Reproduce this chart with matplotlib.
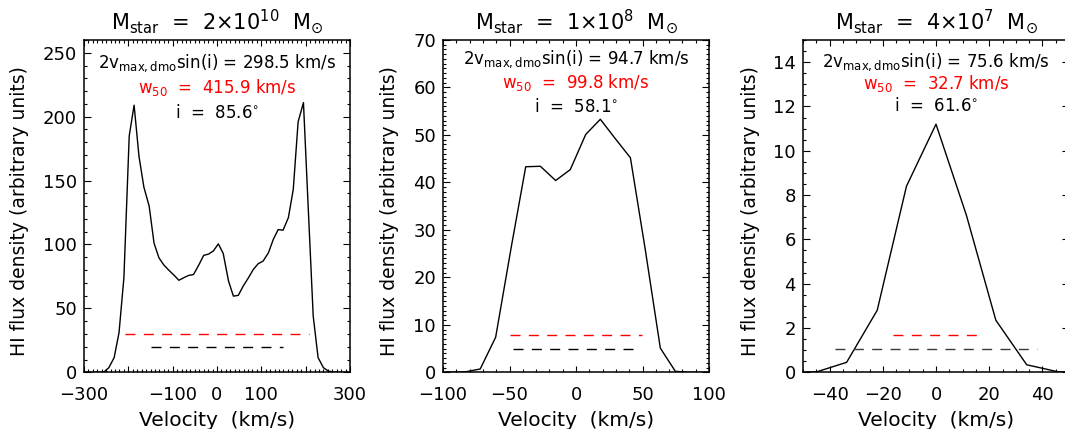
import matplotlib
matplotlib.use('Agg')
import matplotlib.pyplot as plt
from matplotlib.ticker import MultipleLocator

plt.rcParams['font.family'] = ['DejaVu Sans']
plt.rcParams['mathtext.fontset'] = 'dejavusans'
plt.rcParams['lines.scale_dashes'] = False
plt.rcParams['axes.unicode_minus'] = True

# ---------------- data ----------------
vel1 = [-300, -270, -255, -244, -232, -221, -210, -198, -187, -176, -165, -153,
        -142, -131, -120, -109, -97, -86, -75, -64, -53, -41, -30, -19, -8, 3,
        14, 26, 37, 48, 59, 71, 82, 93, 104, 116, 127, 138, 149, 161, 172, 183,
        195, 206, 217, 228, 240, 251, 262, 280, 300]
flux1 = [0, 0, 0.3, 3.6, 11.5, 31, 74, 185, 209, 169, 145, 130,
         101, 89.6, 84, 80, 76, 72, 74, 75.8, 76.5, 84, 91.5, 92.5, 95, 100.5,
         93, 71.4, 59.6, 60.2, 67.4, 74, 80.5, 85, 87, 93.5, 104, 111.7, 111.2, 121, 143, 196,
         211, 127, 44, 11.5, 3.6, 1, 0.2, 0, 0]

vel2 = [-100, -83, -72, -60.4, -48.6, -37.8, -26.8, -15.3, -4.3, 7.3, 18.3,
        29.6, 40.9, 52, 63.4, 74.7, 86, 100]
flux2 = [0, 0.1, 0.7, 7.4, 26.5, 43.3, 43.4, 40.4, 42.7, 50.1, 53.3,
         49.2, 45.2, 26, 5.1, 0.2, 0, 0]

vel3 = [-50, -44.6, -33.6, -22.1, -11.1, 0, 11.4, 22.5, 34.1, 45.6, 50]
flux3 = [0, 0.03, 0.45, 2.8, 8.4, 11.2, 7.1, 2.35, 0.34, 0.03, 0]

velocities = [vel1, vel2, vel3]
fluxes = [flux1, flux2, flux3]

mstar_labels = [r'M$_{\rm star}$  =  2$\times$10$^{10}$  M$_{\odot}$',
                r'M$_{\rm star}$  =  1$\times$10$^{8}$  M$_{\odot}$',
                r'M$_{\rm star}$  =  4$\times$10$^{7}$  M$_{\odot}$']
vmax_sini = [298.5, 94.7, 75.6]
w50 = [415.9, 99.8, 32.7]
incl = [85.6, 58.1, 61.6]
w50_level = [30.2, 7.9, 1.7]
vmax_level = [20.0, 5.0, 1.03]

xlims = [(-300, 300), (-100, 100), (-50, 50)]
ylims = [(0, 260), (0, 70), (0, 15)]
x_major = [100, 50, 20]
x_minor = [10, 10, 5]
y_major = [50, 10, 2]
y_minor = [10, 1, 0.5]
xtick_labels1 = ['\u2212300', '', '\u2212100', '0', '100', '', '300']

# ---------------- layout ----------------
W, H = 1065, 429
fig = plt.figure(figsize=(W / 100, H / 100), dpi=100)
ax_left_px = [84, 443, 803]
ax_w_px = 266
ax_top_px = 40
ax_bot_px = 372.3
ylabel_x = [-0.243, -0.200, -0.196]
text_base_px = [[68.3, 93.3, 118.3], [64.5, 88.0, 112.0], [66.7, 89.0, 111.0]]

FS_TICK = 13
FS_TEXT = 12
FS_TITLE = 15
FS_XLABEL = 14.5
FS_YLABEL = 13.5

for k in range(3):
    ax = fig.add_axes([ax_left_px[k] / W, (H - ax_bot_px) / H,
                       ax_w_px / W, (ax_bot_px - ax_top_px) / H])
    ax_h_px = ax_bot_px - ax_top_px
    ax.plot(velocities[k], fluxes[k], color='black', lw=1.0)
    ax.plot([-w50[k] / 2, w50[k] / 2], [w50_level[k]] * 2, color='#ff0000',
            lw=1.0, dashes=(7.2, 6.0))
    ax.plot([-vmax_sini[k] / 2, vmax_sini[k] / 2], [vmax_level[k]] * 2,
            color='black' if k < 2 else '#3a3a3a', lw=1.0, dashes=(7.2, 6.0))
    ax.set_xlim(*xlims[k])
    ax.set_ylim(*ylims[k])
    ax.xaxis.set_major_locator(MultipleLocator(x_major[k]))
    ax.xaxis.set_minor_locator(MultipleLocator(x_minor[k]))
    ax.yaxis.set_major_locator(MultipleLocator(y_major[k]))
    ax.yaxis.set_minor_locator(MultipleLocator(y_minor[k]))
    if k == 0:
        ax.set_xticks(range(-300, 301, 100))
        ax.set_xticklabels(xtick_labels1)
    ax.tick_params(which='both', direction='in', top=True, right=True,
                   labelsize=FS_TICK, width=0.8)
    ax.tick_params(axis='x', which='major', length=4.0, pad=10)
    ax.tick_params(axis='x', which='minor', length=2.0)
    ax.tick_params(axis='y', which='major', length=5.0, pad=5)
    ax.tick_params(axis='y', which='minor', length=2.5)
    for s in ax.spines.values():
        s.set_linewidth(1.1)
    ax.set_xlabel('Velocity  (km/s)', fontsize=FS_XLABEL, va='baseline')
    ax.xaxis.set_label_coords(0.5, -(425.5 - ax_bot_px) / ax_h_px)
    ax.set_ylabel('HI flux density (arbitrary units)', fontsize=FS_YLABEL, va='center')
    ax.yaxis.set_label_coords(ylabel_x[k], 0.484)
    ax.text(0.5, 1 + (ax_top_px - 29.5) / ax_h_px, mstar_labels[k], transform=ax.transAxes,
            ha='center', va='baseline', fontsize=FS_TITLE)
    tb = text_base_px[k]
    ax.text(0.5, 1 - (tb[0] - ax_top_px) / ax_h_px,
            r'2v$_{\rm max,dmo}$sin(i) = %.1f km/s' % vmax_sini[k],
            transform=ax.transAxes, ha='center', va='baseline', fontsize=FS_TEXT)
    ax.text(0.5, 1 - (tb[1] - ax_top_px) / ax_h_px,
            r'w$_{50}$  =  %.1f km/s' % w50[k], color='#ff0000',
            transform=ax.transAxes, ha='center', va='baseline', fontsize=FS_TEXT)
    ax.text(0.5, 1 - (tb[2] - ax_top_px) / ax_h_px,
            r'i  =  %.1f$^{\circ}$' % incl[k],
            transform=ax.transAxes, ha='center', va='baseline', fontsize=FS_TEXT)

fig.savefig('out.png', dpi=100)
